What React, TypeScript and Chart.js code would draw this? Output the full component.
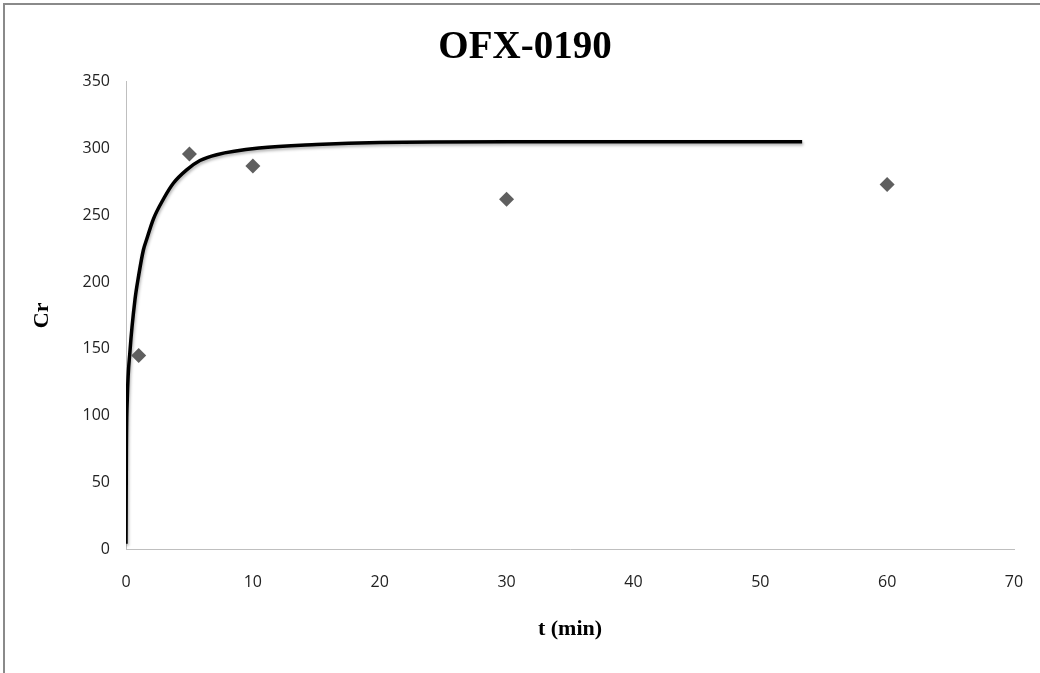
import React, { useEffect, useRef } from "react";
import { Chart, registerables } from "chart.js";

Chart.register(...registerables);

const chartTitle = "OFX-0190";
const xAxisTitle = "t (min)";
const yAxisTitle = "Cr";

// measured data (diamonds)
const measuredT = [1, 5, 10, 30, 60];
const measuredCr = [145, 296, 287, 262, 273];

// fitted curve
const curveT = [0, 0.03, 0.1, 0.32, 0.71, 1.0, 1.37, 1.63, 2.15, 2.94, 3.73, 4.78, 5.83, 7.15, 10.5, 15, 20, 30, 40, 53.3];
const curveCr = [4, 74, 112, 149, 187, 205, 224, 232, 247, 262, 274, 284, 291, 295.4, 300.4, 303, 304.5, 305, 305, 305];

const xTicks = [0, 10, 20, 30, 40, 50, 60, 70];
const yTicks = [0, 50, 100, 150, 200, 250, 300, 350];

const shadowPlugin = {
  id: "lineShadow",
  beforeDatasetDraw(chart: any, args: any) {
    if (args.index === 0) {
      const ctx = chart.ctx;
      ctx.save();
      ctx.shadowColor = "rgba(0,0,0,0.3)";
      ctx.shadowBlur = 3;
      ctx.shadowOffsetX = 1;
      ctx.shadowOffsetY = 2;
    }
  },
  afterDatasetDraw(chart: any, args: any) {
    if (args.index === 0) chart.ctx.restore();
  },
};

export default function App() {
  const ref = useRef<HTMLCanvasElement | null>(null);

  useEffect(() => {
    if (!ref.current) return;
    const chart = new Chart(ref.current, {
      type: "scatter",
      data: {
        datasets: [
          {
            label: "fit",
            data: curveT.map((t, i) => ({ x: t, y: curveCr[i] })),
            showLine: true,
            borderColor: "#000000",
            borderWidth: 3.5,
            pointRadius: 0,
            cubicInterpolationMode: "monotone",
            order: 2,
          },
          {
            label: "Cr",
            data: measuredT.map((t, i) => ({ x: t, y: measuredCr[i] })),
            pointStyle: "rectRot",
            pointRadius: 7.5,
            backgroundColor: "#5f5f5f",
            borderColor: "#5f5f5f",
            borderWidth: 0,
            order: 1,
          },
        ],
      },
      options: {
        animation: false,
        responsive: false,
        layout: { padding: { left: 10, right: 0, top: 0, bottom: 0 } },
        plugins: {
          legend: { display: false },
          tooltip: { enabled: false },
          title: {
            display: true,
            text: chartTitle,
            color: "#000",
            font: { family: "'Liberation Serif', serif", size: 39, weight: "bold" },
            padding: { top: 25, bottom: 10 },
          },
        },
        scales: {
          x: {
            type: "linear",
            min: 0,
            max: 70,
            afterBuildTicks: (s: any) => {
              s.ticks = xTicks.map((v) => ({ value: v }));
            },
            afterFit: (s: any) => {
              s.height = 124;
            },
            grid: { display: true, color: "transparent", drawTicks: true, tickLength: 20 },
            border: { display: true, color: "#bfbfbf", width: 1 },
            ticks: {
              color: "#222",
              padding: 4,
              font: { family: "'Open Sans', sans-serif", size: 16 },
            },
            title: {
              display: true,
              text: xAxisTitle,
              color: "#000",
              font: { family: "'Liberation Serif', serif", size: 22, weight: "bold" },
              padding: { top: 0, bottom: 30 },
            },
          },
          y: {
            type: "linear",
            min: 0,
            max: 350,
            afterBuildTicks: (s: any) => {
              s.ticks = yTicks.map((v) => ({ value: v }));
            },
            afterFit: (s: any) => {
              s.width = 116;
            },
            grid: { display: true, color: "transparent", drawTicks: true, tickLength: 12 },
            border: { display: true, color: "#bfbfbf", width: 1 },
            ticks: {
              color: "#222",
              padding: 4,
              font: { family: "'Open Sans', sans-serif", size: 16 },
            },
            title: {
              display: true,
              text: yAxisTitle,
              color: "#000",
              font: { family: "'Liberation Serif', serif", size: 22, weight: "bold" },
              padding: { top: 19, bottom: 0 },
            },
          },
          yRight: {
            type: "linear",
            position: "right",
            display: true,
            min: 0,
            max: 350,
            afterFit: (s: any) => {
              s.width = 26;
            },
            grid: { display: false, drawTicks: false },
            border: { display: false },
            ticks: { display: false },
          },
        },
      },
      plugins: [shadowPlugin],
    } as any);
    return () => chart.destroy();
  }, []);

  return (
    <div style={{ position: "fixed", left: 0, top: 0, width: 1040, height: 673, background: "#fff", overflow: "hidden" }}>
      <div
        style={{
          position: "absolute",
          left: 3,
          top: 3,
          width: 1200,
          height: 800,
          borderLeft: "2px solid #8a8a8a",
          borderTop: "2px solid #8a8a8a",
        }}
      />
      <canvas ref={ref} width={1040} height={673} style={{ position: "absolute", left: 0, top: 0, display: "block" }} />
    </div>
  );
}
